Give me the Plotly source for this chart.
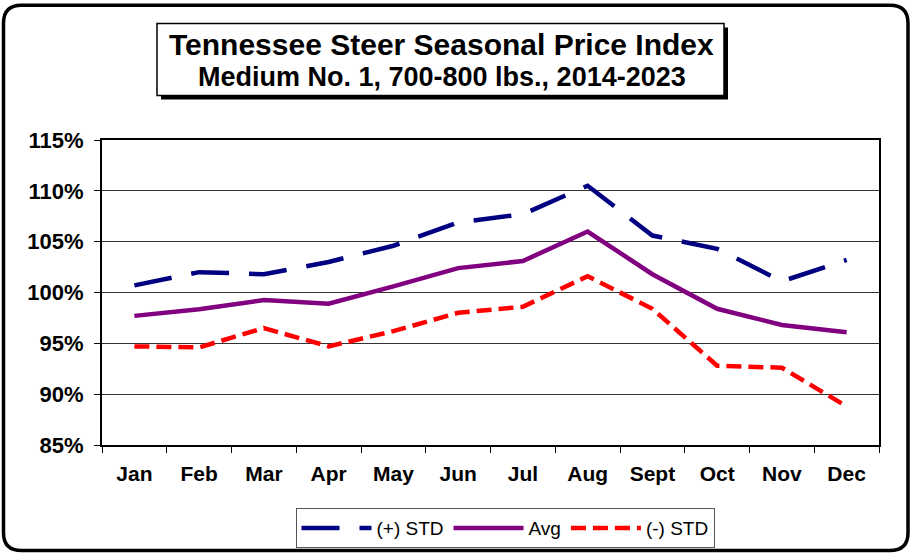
import plotly.graph_objects as go

months = ["Jan", "Feb", "Mar", "Apr", "May", "Jun", "Jul", "Aug", "Sept", "Oct", "Nov", "Dec"]
plus_std = [100.7, 102.0, 101.8, 103.0, 104.6, 106.9, 107.7, 110.5, 105.6, 104.3, 101.1, 103.2]
avg = [97.7, 98.35, 99.25, 98.9, 100.6, 102.4, 103.1, 106.0, 101.8, 98.4, 96.8, 96.1]
minus_std = [94.7, 94.6, 96.5, 94.7, 96.2, 98.0, 98.6, 101.6, 98.4, 92.8, 92.6, 88.8]

FONT = "Liberation Sans, Arial, sans-serif"
W, H = 912, 560
L, R, T, B = 102, 879, 140, 449

def px(x):
    return (x - L) / (R - L)

def py(y):
    return (B - y) / (B - T)

fig = go.Figure()
fig.add_trace(go.Scatter(x=months, y=plus_std, name="(+) STD", mode="lines",
                         line=dict(color="#000080", width=4.5, dash="38px,20px")))
fig.add_trace(go.Scatter(x=months, y=avg, name="Avg", mode="lines",
                         line=dict(color="#800080", width=4.5)))
fig.add_trace(go.Scatter(x=months, y=minus_std, name="(-) STD", mode="lines",
                         line=dict(color="#FF0000", width=4.5, dash="15px,7px")))

# outer rounded frame
x0, x1, y0, y1 = px(3.5), px(908), py(3.5), py(556)
rx = 18 / (R - L)
ry = 18 / (B - T)
path = (f"M {x0+rx},{y0} L {x1-rx},{y0} Q {x1},{y0} {x1},{y0-ry} "
        f"L {x1},{y1+ry} Q {x1},{y1} {x1-rx},{y1} L {x0+rx},{y1} "
        f"Q {x0},{y1} {x0},{y1+ry} L {x0},{y0-ry} Q {x0},{y0} {x0+rx},{y0} Z")
shapes = [
    dict(type="path", xref="paper", yref="paper", path=path,
         line=dict(color="black", width=3.5), layer="below"),
    # title shadow
    dict(type="rect", xref="paper", yref="paper",
         x0=px(161), x1=px(728), y0=py(26), y1=py(99),
         fillcolor="black", line=dict(width=0), layer="below"),
    dict(type="rect", xref="paper", yref="paper",
         x0=px(157), x1=px(724), y0=py(22), y1=py(95),
         fillcolor="white", line=dict(color="black", width=1.5), layer="below"),
]

annotations = [
    dict(text="<b>Tennessee Steer Seasonal Price Index</b>", xref="paper", yref="paper",
         x=px(441), y=py(43), xanchor="center", yanchor="middle", showarrow=False,
         font=dict(family=FONT, size=30, color="black")),
    dict(text="<b>Medium No. 1, 700-800 lbs., 2014-2023</b>", xref="paper", yref="paper",
         x=px(442), y=py(76), xanchor="center", yanchor="middle", showarrow=False,
         font=dict(family=FONT, size=27, color="black")),
]

fig.update_layout(
    width=W, height=H,
    margin=dict(l=L, r=W - R, t=T, b=H - B),
    paper_bgcolor="white", plot_bgcolor="white",
    font=dict(family=FONT, color="black"),
    shapes=shapes, annotations=annotations,
    showlegend=True,
    legend=dict(orientation="h", x=px(505), xanchor="center", y=py(513), yanchor="top",
                bordercolor="#555555", borderwidth=1, bgcolor="white",
                font=dict(family=FONT, size=19, color="black"),
                itemwidth=70, tracegroupgap=0),
)
fig.update_xaxes(type="category", range=[-0.5, 11.5], showgrid=False,
                 showline=True, linecolor="black", linewidth=2, mirror=True,
                 ticks="outside", tickson="boundaries", ticklen=6, tickcolor="black",
                 tickfont=dict(family=FONT, size=21, color="black"),
                 ticklabelstandoff=9,
                 tickprefix="<b>", ticksuffix="</b>")
fig.update_yaxes(range=[85, 115], dtick=5, ticksuffix="%</b>", tickprefix="<b>",
                 showgrid=True, gridcolor="#333333", gridwidth=1,
                 showline=True, linecolor="black", linewidth=2, mirror=True,
                 ticks="outside", ticklen=6, tickcolor="black",
                 tickfont=dict(family=FONT, size=22, color="black"),
                 ticklabelstandoff=6,
                 zeroline=False)

fig.write_html("out.html", config={"displayModeBar": False},
               post_script="document.body.style.margin='0';document.body.style.overflow='hidden';")
